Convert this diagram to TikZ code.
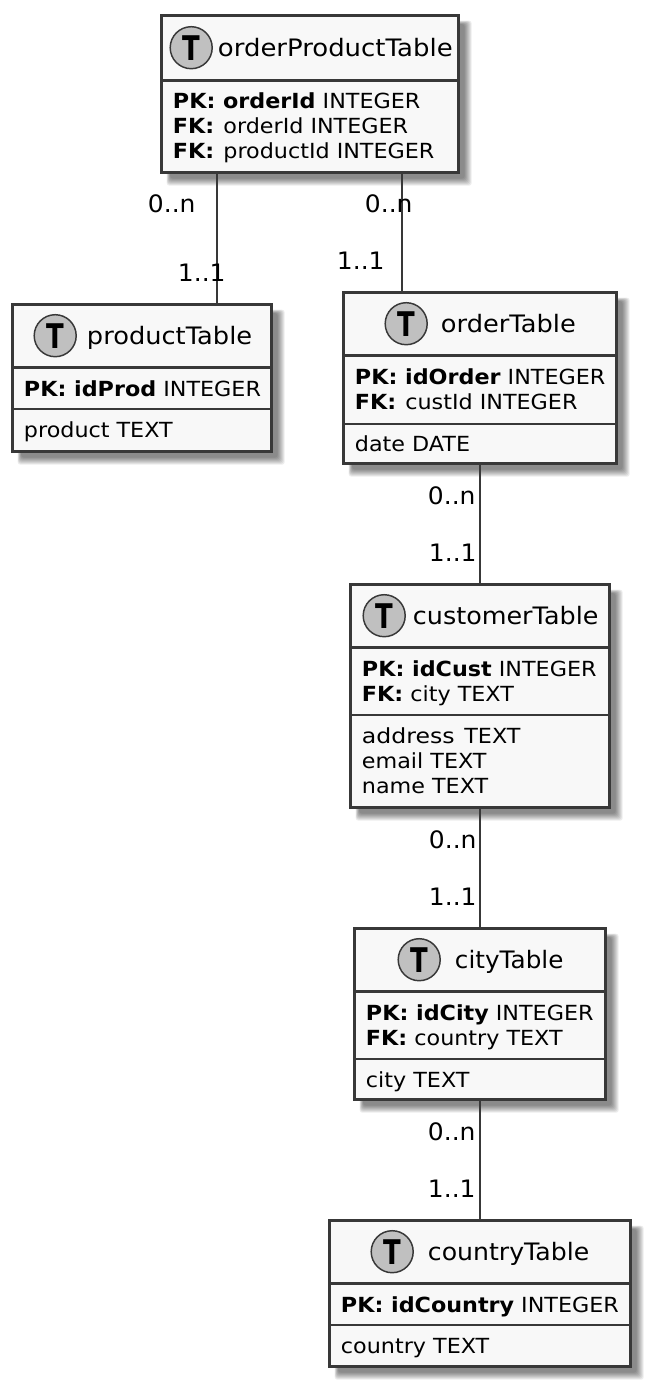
\documentclass[tikz,border=0pt]{standalone}
\usepackage{graphicx}
\usepackage{fontspec}
\setmainfont{DejaVu Sans}
\newfontfamily\titlefam[FakeStretch=1.07]{DejaVu Sans}
\newfontfamily\fieldfam[FakeStretch=1.07]{DejaVu Sans}
\newfontfamily\cardfam[FakeStretch=1.04]{DejaVu Sans}
\newfontfamily\spotfam[FakeStretch=0.76]{DejaVu Sans Bold}
\definecolor{ink}{HTML}{383838}
\definecolor{boxbg}{HTML}{F8F8F8}
\definecolor{spot}{HTML}{C0C0C0}
\tikzset{
  x=0.75pt,y=-0.75pt,
  tablebox/.style={draw=ink,fill=boxbg,line width=2.25pt,inner sep=0pt,outer sep=0pt},
  rule1/.style={draw=ink,line width=2.25pt},
  rule2/.style={draw=ink,line width=1.35pt},
  link/.style={draw=ink,line width=1.5pt},
  spotc/.style={circle,draw=ink,fill=spot,line width=1.1pt,minimum size=31.5pt,inner sep=0pt},
  spott/.style={font=\fontsize{25.5}{25.5}\selectfont\spotfam,inner sep=0pt,text=black},
  titlet/.style={font=\titlefam\fontsize{18}{20}\selectfont,anchor=base west,inner sep=0pt},
  fieldt/.style={font=\fieldfam\fontsize{15.6}{19}\selectfont,anchor=base west,inner sep=0pt},
  cardt/.style={font=\cardfam\fontsize{18}{20}\selectfont,anchor=base west,inner sep=0pt},
}
% name, x0, y0, x1, y1
\newcommand{\tablebx}[5]{%
  \foreach \k in {0,...,7}{
    \fill[black,opacity=0.07,rounded corners=2pt]
      ({#2+5+\k/2},{#3+5+\k/2}) rectangle ({#4+13-\k},{#5+13-\k});
  }
  \pgfmathsetmacro{\boxwd}{(#4-#2)*0.75}
  \pgfmathsetmacro{\boxht}{(#5-#3)*0.75}
  \node[tablebox,minimum width=\boxwd pt,minimum height=\boxht pt] (#1) at ({(#2+#4)/2},{(#3+#5)/2}) {};
}
\newcommand{\spotT}[3]{%
  \node[spotc] (#1c) at (#2,#3) {};
  \node[spott] (#1t) at (#1c.center) {T};
}
\begin{document}
\begin{tikzpicture}
\useasboundingbox (0.3,0.3) rectangle (653.3,1389.3);
\fill[white] (0.3,0.3) rectangle (653.3,1389.3);
\coordinate (lineA) at (217,0);
\coordinate (lineB) at (402,0);
\coordinate (lineC) at (480.5,0);

% orderProductTable
\tablebx{opt}{162}{16}{459}{173}
\draw[rule1] (162,81) -- (459,81);
\spotT{optS}{191.5}{48}
\node[titlet] (optN) at (218,57) {\scalebox{1.01}[1]{orderProductTable}};
\node[fieldt] (optA) at (173,109) {\textbf{PK: orderId} INTEGER};
\node[fieldt] (optB) at (173,134) {\textbf{FK:}\hspace{1.5pt} orderId INTEGER};
\node[fieldt] (optC) at (173,159) {\textbf{FK:}\hspace{1.5pt} productId INTEGER};

% productTable
\tablebx{prod}{13}{305}{272}{452}
\draw[rule1] (13,368) -- (272,368);
\draw[rule2] (13,409) -- (272,409);
\spotT{prodS}{55.5}{336}
\node[titlet] (prodN) at (87,345) {productTable};
\node[fieldt] (prodA) at (24,397) {\textbf{PK: idProd} INTEGER};
\node[fieldt] (prodB) at (24,438) {product TEXT};

% orderTable
\tablebx{ord}{344}{293}{617}{464}
\draw[rule1] (344,356) -- (617,356);
\draw[rule2] (344,424) -- (617,424);
\spotT{ordS}{406.5}{324}
\node[titlet] (ordN) at (441,333) {orderTable};
\node[fieldt] (ordA) at (355,385) {\textbf{PK: idOrder} INTEGER};
\node[fieldt] (ordB) at (355,410) {\textbf{FK:}\hspace{1.5pt} custId INTEGER};
\node[fieldt] (ordC) at (355,452) {date DATE};

% customerTable
\tablebx{cust}{351}{585}{610}{808}
\draw[rule1] (351,648) -- (610,648);
\draw[rule2] (351,715) -- (610,715);
\spotT{custS}{384.5}{616}
\node[titlet] (custN) at (413,625) {\scalebox{0.99}[1]{customerTable}};
\node[fieldt] (custA) at (362,677) {\textbf{PK: idCust} INTEGER};
\node[fieldt] (custB) at (362,702) {\textbf{FK:} city TEXT};
\node[fieldt] (custC) at (362,744) {\scalebox{1.06}[1]{address}\hspace{2pt} TEXT};
\node[fieldt] (custD) at (362,769) {email TEXT};
\node[fieldt] (custE) at (362,794) {name TEXT};

% cityTable
\tablebx{city}{355}{929}{606}{1100}
\draw[rule1] (355,992) -- (606,992);
\draw[rule2] (355,1059) -- (606,1059);
\spotT{cityS}{419.5}{960}
\node[titlet] (cityN) at (455,969) {\scalebox{0.96}[1]{cityTable}};
\node[fieldt] (cityA) at (366,1021) {\textbf{PK: idCity} INTEGER};
\node[fieldt] (cityB) at (366,1046) {\textbf{FK:} country TEXT};
\node[fieldt] (cityC) at (366,1088) {city TEXT};

% countryTable
\tablebx{ctry}{330}{1221}{631}{1367}
\draw[rule1] (330,1284) -- (631,1284);
\draw[rule2] (330,1325) -- (631,1325);
\spotT{ctryS}{392.5}{1252}
\node[titlet] (ctryN) at (428,1261) {\scalebox{0.98}[1]{countryTable}};
\node[fieldt] (ctryA) at (341,1313) {\textbf{PK: idCountry} INTEGER};
\node[fieldt] (ctryB) at (341,1354) {country TEXT};

% connectors
\draw[link] (opt.south -| lineA) -- (prod.north -| lineA);
\draw[link] (opt.south -| lineB) -- (ord.north -| lineB);
\draw[link] (ord.south -| lineC) -- (cust.north -| lineC);
\draw[link] (cust.south -| lineC) -- (city.north -| lineC);
\draw[link] (city.south -| lineC) -- (ctry.north -| lineC);

% cardinalities
\node[cardt] (c1) at (148,213) {0..n};
\node[cardt] (c2) at (178,282) {1..1};
\node[cardt] (c3) at (365,213) {0..n};
\node[cardt] (c4) at (337,270) {1..1};
\node[cardt] (c5) at (428,505) {0..n};
\node[cardt] (c6) at (429,562) {1..1};
\node[cardt] (c7) at (429,849) {0..n};
\node[cardt] (c8) at (429,906) {1..1};
\node[cardt] (c9) at (428,1141) {0..n};
\node[cardt] (c10) at (428,1198) {1..1};
\end{tikzpicture}
\end{document}
